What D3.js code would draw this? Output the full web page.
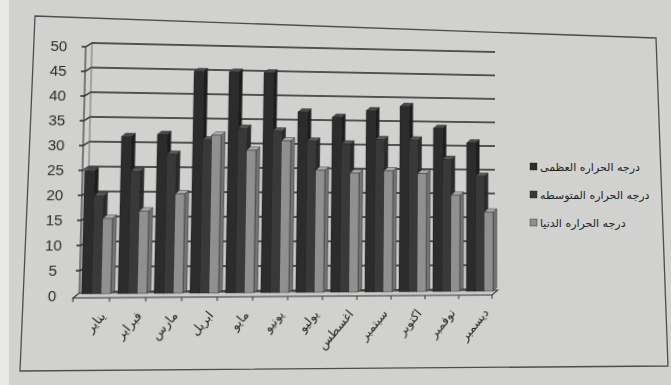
<!DOCTYPE html>
<html>
<head>
<meta charset="utf-8">
<script src="https://cdn.jsdelivr.net/npm/d3@7"></script>
<style>
    html, body { margin: 0; padding: 0; background: #d1d1cf; }
    #wrap { position: relative; width: 671px; height: 385px; overflow: hidden; }
    #wrap svg { position: absolute; left: 0; top: 0; display: block; }
    #plot { transform-origin: 0 0; }
    .yLabel { font-family: "Liberation Sans", Arial, sans-serif; font-size: 14.5px; fill: #2a2a2a; }
    .monthLabel { font-family: "DejaVu Sans", sans-serif; font-size: 12.5px; fill: #222; }
    .legendText { font-family: "DejaVu Sans", sans-serif; font-size: 11px; fill: #1e1e1e; }
</style>
</head>
<body>
<div id="wrap">
    <svg id="paper" width="671" height="385"></svg>
    <svg id="plot" width="671" height="385"></svg>
</div>
<script>
// months (categories)
const months = ["يناير", "فبراير", "مارس", "ابريل", "مايو", "يونيو",
    "يوليو", "اغسطس", "سبتمبر", "اكتوبر", "نوفمبر", "ديسمبر"];

// series names, as in the legend
const seriesNames = ["درجه الحراره العظمى", "درجه الحراره المتوسطه", "درجه الحراره الدنيا"];

// values
const maxTemp  = [24.5, 31.5, 32, 45, 45, 45, 37, 36, 37.5, 38.5, 34, 31];
const meanTemp = [19.5, 24.5, 28, 31, 33.5, 33, 31, 30.5, 31.5, 31.5, 27.5, 24];
const minTemp  = [15, 16.5, 20, 32, 29, 31, 25, 24.5, 25, 24.5, 20, 16.5];

const yTicks = [0, 5, 10, 15, 20, 25, 30, 35, 40, 45, 50];

// front / side / top shades for each series
const shades = [
    {front: "#2c2c2c", side: "#1d1d1d", top: "#4a4a4a"},
    {front: "#393939", side: "#2a2a2a", top: "#585858"},
    {front: "#909090", side: "#747474", top: "#ababab"}
];

const W = 671, H = 385;
const paper = d3.select("#paper");
const svg = d3.select("#plot");

// depth of the 3D box and of a bar
const wallDx = 6, wallDy = 4;
const barDx = 4, barDy = 3.5;

const x = d3.scaleBand().domain(months).range([74, 494]);
const y = d3.scaleLinear().domain([0, 50]).range([296, 46]);
const xs = d3.scaleBand().domain([0, 1, 2]).range([8, 36]);

// ---- the photographed page: background, white edge, skewed frame, legend
paper.append('rect')
    .attr('width', W).attr('height', H)
    .attr('fill', "#d1d1cf");
paper.append('rect')
    .attr('width', 9).attr('height', H)
    .attr('fill', "#e9e9e8");
paper.append('path')
    .attr('d', "M35,16L656,38L668,366L20,371Z")
    .attr('fill', "none")
    .attr('stroke', "#4d4d4d")
    .attr('stroke-width', 1.3);

const legend = paper.append('g').attr('class', "legend")
    .selectAll('.legendItem')
    .data(seriesNames)
    .enter()
    .append('g')
    .attr('class', "legendItem")
    .attr('transform', (d, i) => "translate(530," + (167 + i * 28) + ")");

legend.append('rect')
    .attr('x', 0).attr('y', -4).attr('width', 7).attr('height', 7)
    .attr('fill', (d, i) => shades[i].front)
    .attr('stroke', "#222").attr('stroke-width', 0.4);

legend.append('text')
    .attr('class', "legendText")
    .attr('x', 10)
    .attr('dy', "0.35em")
    .text(d => d);

// ---- the plot itself, drawn straight and then bent like the photo
const grid = svg.append('g').attr('class', "grid");
const xLeft = 80, xRight = 497;

grid.selectAll('.gridLine')
    .data(yTicks)
    .enter()
    .append('path')
    .attr('class', "gridLine")
    .attr('d', d => "M" + (xLeft - 4) + "," + y(d) + "L" + xLeft + "," + y(d) +
        "L" + (xLeft + wallDx) + "," + (y(d) - wallDy) + "L" + xRight + "," + (y(d) - wallDy))
    .attr('fill', "none")
    .attr('stroke', "#262626")
    .attr('stroke-width', 1.3);

grid.append('line')
    .attr('x1', xLeft).attr('y1', y(50)).attr('x2', xLeft).attr('y2', y(0) + 2)
    .attr('stroke', "#333").attr('stroke-width', 1.1);
grid.append('line')
    .attr('x1', xLeft + wallDx).attr('y1', y(50) - wallDy).attr('x2', xLeft + wallDx).attr('y2', y(0) - wallDy)
    .attr('stroke', "#5a5a5a").attr('stroke-width', 0.8);

const x0 = x.range()[0], x1 = x.range()[1];
grid.append('path')
    .attr('d', "M" + x0 + "," + (y(0) + 2) + "L" + x1 + "," + (y(0) + 2) +
        "L" + (x1 + wallDx) + "," + (y(0) - wallDy + 1) + "L" + (x0 + wallDx) + "," + (y(0) - wallDy + 1) + "Z")
    .attr('fill', "#cbcbc9")
    .attr('stroke', "#333")
    .attr('stroke-width', 1.1);

grid.selectAll('.catTick')
    .data(months.concat(["end"]))
    .enter()
    .append('line')
    .attr('class', "catTick")
    .attr('x1', (d, i) => x0 + i * x.bandwidth())
    .attr('x2', (d, i) => x0 + i * x.bandwidth())
    .attr('y1', y(0) + 2)
    .attr('y2', y(0) + 6)
    .attr('stroke', "#333");

svg.selectAll('.yLabel')
    .data(yTicks)
    .enter()
    .append('text')
    .attr('class', "yLabel")
    .attr('x', 54)
    .attr('y', d => y(d))
    .attr('dy', "0.36em")
    .attr('text-anchor', 'middle')
    .text(d => d);

// bars
const series = [maxTemp, meanTemp, minTemp];
const barData = [];
months.forEach((m, i) => {
    series.forEach((s, k) => {
        barData.push({month: m, k: k, value: s[i]});
    });
});

const base = y(0) - 2;
const bw = xs.bandwidth();
const topY = d => y(d.value) - 2;

const bars = svg.append('g').attr('class', "bars")
    .selectAll('.bar')
    .data(barData)
    .enter()
    .append('g')
    .attr('class', "bar")
    .attr('transform', d => "translate(" + (x(d.month) + xs(d.k)) + ",0)");

bars.append('path')
    .attr('d', d => "M" + bw + "," + topY(d) + "L" + (bw + barDx) + "," + (topY(d) - barDy) +
        "L" + (bw + barDx) + "," + (base - barDy) + "L" + bw + "," + base + "Z")
    .attr('fill', d => shades[d.k].side)
    .attr('stroke', "#1a1a1a").attr('stroke-width', 0.4);

bars.append('path')
    .attr('d', d => "M0," + topY(d) + "L" + barDx + "," + (topY(d) - barDy) +
        "L" + (bw + barDx) + "," + (topY(d) - barDy) + "L" + bw + "," + topY(d) + "Z")
    .attr('fill', d => shades[d.k].top)
    .attr('stroke', "#1a1a1a").attr('stroke-width', 0.4);

bars.append('rect')
    .attr('x', 0)
    .attr('y', d => topY(d))
    .attr('width', bw)
    .attr('height', d => base - topY(d))
    .attr('fill', d => shades[d.k].front)
    .attr('stroke', "#1a1a1a").attr('stroke-width', 0.4);

svg.selectAll('.monthLabel')
    .data(months)
    .enter()
    .append('text')
    .attr('class', "monthLabel")
    .attr('text-anchor', 'end')
    .attr('transform', d => "translate(" + (x(d) + x.bandwidth() / 2 + 8) + "," + 311 + ") rotate(-50)")
    .attr('dy', "0.7em")
    .text(d => d);

// ---- photo distortion: map the straight plot corners onto where they sit in the photo
// (top gridline ends, floor front ends)
const from = [[86, 42], [497, 42], [74, 298], [494, 298]];
const to   = [[92, 43], [495, 52], [73, 298], [492, 295]];

function solve(A, b) {
    const n = b.length;
    for (let c = 0; c < n; c++) {
        let p = c;
        for (let r = c + 1; r < n; r++) if (Math.abs(A[r][c]) > Math.abs(A[p][c])) p = r;
        [A[c], A[p]] = [A[p], A[c]];
        [b[c], b[p]] = [b[p], b[c]];
        for (let r = c + 1; r < n; r++) {
            const f = A[r][c] / A[c][c];
            for (let k = c; k < n; k++) A[r][k] -= f * A[c][k];
            b[r] -= f * b[c];
        }
    }
    const out = new Array(n).fill(0);
    for (let r = n - 1; r >= 0; r--) {
        let s = b[r];
        for (let k = r + 1; k < n; k++) s -= A[r][k] * out[k];
        out[r] = s / A[r][r];
    }
    return out;
}

const A = [], rhs = [];
for (let i = 0; i < 4; i++) {
    const [sx, sy] = from[i], [dx, dy] = to[i];
    A.push([sx, sy, 1, 0, 0, 0, -sx * dx, -sy * dx]); rhs.push(dx);
    A.push([0, 0, 0, sx, sy, 1, -sx * dy, -sy * dy]); rhs.push(dy);
}
const [a, b, c, d, e, f, g, h] = solve(A, rhs);
d3.select("#plot").style('transform',
    "matrix3d(" + [a, d, 0, g, b, e, 0, h, 0, 0, 1, 0, c, f, 0, 1].join(",") + ")");
</script>
</body>
</html>
